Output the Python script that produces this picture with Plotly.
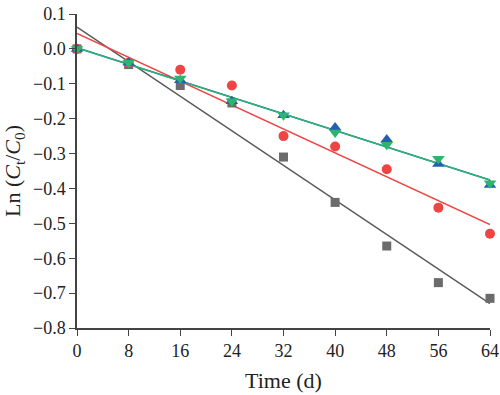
import numpy as np
import plotly.graph_objects as go

time_d = [0, 8, 16, 24, 32, 40, 48, 56, 64]
gray_sq = [0, -0.045, -0.105, -0.155, -0.31, -0.44, -0.565, -0.67, -0.715]
red_ci = [0, -0.04, -0.06, -0.105, -0.25, -0.28, -0.345, -0.455, -0.53]
blue_tu = [0, -0.04, -0.09, -0.15, -0.19, -0.225, -0.26, -0.33, -0.39]
green_td = [0, -0.04, -0.085, -0.15, -0.19, -0.24, -0.275, -0.315, -0.385]

y_ticks = [0.1, 0.0, -0.1, -0.2, -0.3, -0.4, -0.5, -0.6, -0.7, -0.8]
x_ticks = [0, 8, 16, 24, 32, 40, 48, 56, 64]

series = [
    (gray_sq, "square", "#6b6b6b", "#5a5a5a", 9),
    (red_ci, "circle", "#ee4444", "#ee4444", 10),
    (blue_tu, "triangle-up", "#2360b4", "#2360b4", 11),
    (green_td, "triangle-down", "#2db46e", "#2db46e", 11),
]

fig = go.Figure()
x = np.array(time_d, dtype=float)
# fit lines
for ys, sym, mc, lc, ms in series:
    k, b = np.polyfit(x, np.array(ys), 1)
    xs = np.array([x.min(), x.max()])
    fig.add_trace(go.Scatter(x=xs, y=k * xs + b, mode="lines",
                             line=dict(color=lc, width=1.5), showlegend=False,
                             cliponaxis=False))
for ys, sym, mc, lc, ms in series:
    fig.add_trace(go.Scatter(x=time_d, y=ys, mode="markers",
                             marker=dict(symbol=sym, color=mc, size=ms, line=dict(width=0)),
                             showlegend=False, cliponaxis=False))

font = dict(family="Liberation Serif, DejaVu Serif, serif", size=18, color="#222")
fig.update_layout(
    width=500, height=395,
    margin=dict(l=77, r=10, t=14, b=67, autoexpand=False),
    paper_bgcolor="white", plot_bgcolor="white",
    font=font,
)
fig.update_xaxes(range=[0, 64], tickvals=x_ticks, ticks="outside", ticklen=6,
                 tickcolor="#444", showline=True, linecolor="#444", linewidth=1.5,
                 showgrid=False, zeroline=False, automargin=False,
                 title=dict(text="Time (d)", standoff=12))
fig.update_yaxes(range=[-0.8, 0.1], tickvals=y_ticks, tickformat=".1f", ticks="outside",
                 ticklen=6, tickcolor="#444", showline=True, linecolor="#444", linewidth=1.5,
                 showgrid=False, zeroline=False, automargin=False,
                 title=dict(text="Ln (<i>C</i><sub>t</sub>/<i>C</i><sub>0</sub>)", standoff=6))

post = ("document.body.style.margin='0';document.body.style.overflow='hidden';"
        "document.documentElement.style.overflow='hidden';")
fig.write_html("out.html", post_script=post, config={"displayModeBar": False})
